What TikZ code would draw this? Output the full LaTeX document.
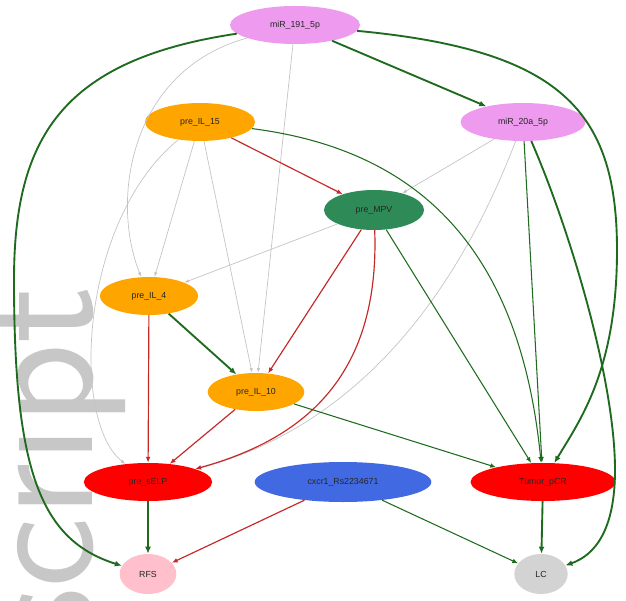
\documentclass[tikz,border=0pt]{standalone}
\usepackage{fontspec}
\setmainfont{Liberation Sans}
\usepackage{tikz}
\usetikzlibrary{shapes.geometric, arrows.meta}

\definecolor{mirpink}{HTML}{EE9AEE}
\definecolor{preorange}{HTML}{FFA500}
\definecolor{mpvgreen}{HTML}{2E8B57}
\definecolor{outred}{HTML}{FF0000}
\definecolor{snpblue}{HTML}{4169E1}
\definecolor{rfspink}{HTML}{FFC0CB}
\definecolor{lcgray}{HTML}{D3D3D3}
\definecolor{edgegreen}{HTML}{1E6A1E}
\definecolor{edgered}{HTML}{C62828}
\definecolor{edgegray}{HTML}{C4C4C4}

\tikzset{
    var/.style={ellipse, inner sep=0pt, font=\fontsize{7.5}{8}\selectfont, text=black!85},
    gthick/.style={draw=edgegreen, line width=1.6pt, -{Latex[length=6pt,width=5pt]}},
    gthin/.style={draw=edgegreen, line width=0.9pt, -{Latex[length=5pt,width=4pt]}},
    redge/.style={draw=edgered, line width=1pt, -{Latex[length=5pt,width=4pt]}},
    grayedge/.style={draw=edgegray, line width=0.6pt, -{Latex[length=4pt,width=3pt]}}
}

\begin{document}
\begin{tikzpicture}[x=0.03cm, y=-0.03cm]
    \useasboundingbox (0,0) rectangle (626,601);
    \clip (0,0) rectangle (626,601);
    % watermark
    \node[rotate=90, anchor=base west, text=black!22, inner sep=0pt,
        font=\fontsize{145}{145}\selectfont\sffamily] (wm) at (92,650) {script};

    % nodes
    \node[var, fill=mirpink, minimum width=3.9cm, minimum height=1.14cm] (m191) at (295,25) {miR\_191\_5p};
    \node[var, fill=preorange, minimum width=3.3cm, minimum height=1.14cm] (il15) at (200,122) {pre\_IL\_15};
    \node[var, fill=mirpink, minimum width=3.75cm, minimum height=1.14cm] (m20a) at (523,122) {miR\_20a\_5p};
    \node[var, fill=mpvgreen, minimum width=3.0cm, minimum height=1.2cm] (mpv) at (374,210) {pre\_MPV};
    \node[var, fill=preorange, minimum width=2.95cm, minimum height=1.14cm] (il4) at (149,296) {pre\_IL\_4};
    \node[var, fill=preorange, minimum width=2.9cm, minimum height=1.14cm] (il10) at (256,392) {pre\_IL\_10};
    \node[var, fill=outred, minimum width=3.85cm, minimum height=1.14cm] (selp) at (148,482) {pre\_sELP};
    \node[var, fill=snpblue, minimum width=5.3cm, minimum height=1.2cm] (cxcr) at (343,482) {cxcr1\_Rs2234671};
    \node[var, fill=outred, minimum width=4.35cm, minimum height=1.14cm] (tumor) at (543,482) {Tumor\_pCR};
    \node[var, fill=rfspink, minimum width=1.7cm, minimum height=1.2cm] (rfs) at (148,574) {RFS};
    \node[var, fill=lcgray, minimum width=1.6cm, minimum height=1.2cm] (lc) at (541,574) {LC};

    % edges from miR_191_5p
    \draw[gthick] (m191) .. controls (60,60) and (14,140) .. (14,280) .. controls (14,470) and (40,540) .. (rfs);
    \draw[gthick] (m191) .. controls (560,50) and (617,110) .. (617,250) .. controls (617,370) and (580,420) .. (tumor);
    \draw[gthick] (m191) -- (m20a);
    \draw[grayedge] (m191) -- (il10);
    \draw[grayedge] (m191) .. controls (130,70) and (110,200) .. (il4);

    % edges from miR_20a_5p
    \draw[grayedge] (m20a) -- (mpv);
    \draw[grayedge] (m20a) .. controls (470,260) and (380,420) .. (selp);
    \draw[gthin] (m20a) -- (tumor);
    \draw[gthick] (m20a) .. controls (570,230) and (615,380) .. (615,470) .. controls (615,530) and (595,555) .. (lc);

    % edges from pre_IL_15
    \draw[redge] (il15) -- (mpv);
    \draw[grayedge] (il15) -- (il4);
    \draw[grayedge] (il15) -- (il10);
    \draw[grayedge] (il15) .. controls (80,220) and (70,420) .. (selp);
    \draw[gthin] (il15) .. controls (420,150) and (520,250) .. (tumor);

    % edges from pre_MPV
    \draw[grayedge] (mpv) -- (il4);
    \draw[redge] (mpv) -- (il10);
    \draw[redge] (mpv) .. controls (380,380) and (300,440) .. (selp);
    \draw[gthin] (mpv) -- (tumor);

    % lower edges
    \draw[redge] (il4) -- (selp);
    \draw[gthick] (il4) -- (il10);
    \draw[redge] (il10) -- (selp);
    \draw[gthin] (il10) -- (tumor);
    \draw[gthick] (selp) -- (rfs);
    \draw[redge] (cxcr) -- (rfs);
    \draw[gthin] (cxcr) -- (lc);
    \draw[gthick] (tumor) -- (lc);
\end{tikzpicture}
\end{document}
